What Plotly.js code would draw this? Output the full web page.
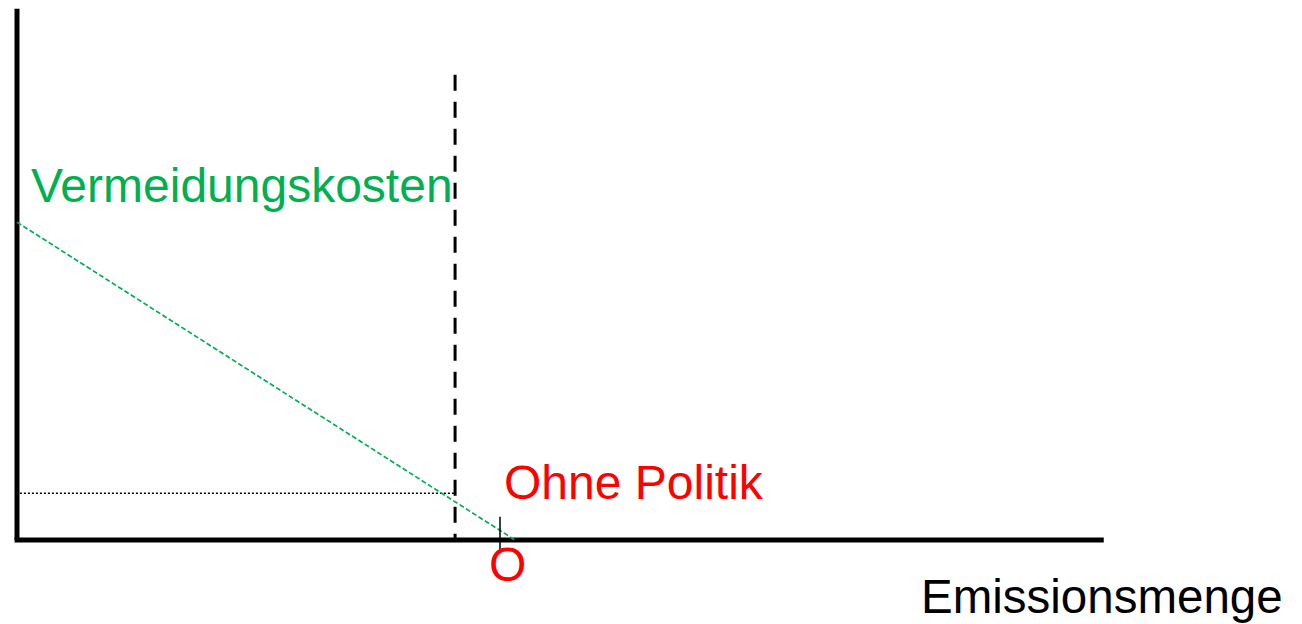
<!DOCTYPE html>
<html>
<head>
<meta charset="utf-8">
<script src="https://cdn.plot.ly/plotly-3.0.1.min.js"></script>
<style>html,body{margin:0;padding:0;background:#fff;}#chart{width:1302px;height:624px;}</style>
</head>
<body>
<div id="chart"></div>
<script>
// ---- data (abstract units) ----
const xAxisMax = 225;          // end of emission axis
const yAxisMax = 110;          // top of cost axis
const abatementX = [0, 103.1]; // Vermeidungskosten line
const abatementY = [65.8, 0];
const policyX = 90.7;          // dashed policy line
const policyTop = 96.3;
const priceLevel = 9.7;        // dotted horizontal level
const noPolicyX = 100;         // "O" point (ohne Politik)
const labels = {
  cost: "Vermeidungskosten",
  noPolicy: "Ohne Politik",
  origin: "O",
  xTitle: "Emissionsmenge"
};

const pxPerUnit = 4.83;
const x0 = -17 / pxPerUnit, x1 = x0 + 1302 / pxPerUnit;
const y1 = 540 / pxPerUnit, y0 = y1 - 624 / pxPerUnit;

const font = "Liberation Sans, Arial, sans-serif";
const fs = 48;
const traces = [
  {x: [0, 0], y: [0, yAxisMax], mode: "lines", line: {color: "#000", width: 5}},
  {x: [-0.5, xAxisMax], y: [0, 0], mode: "lines", line: {color: "#000", width: 5}},
  {x: [0.6, policyX], y: [priceLevel, priceLevel], mode: "lines", line: {color: "#000", width: 1.5, dash: "2px,2px"}},
  {x: abatementX, y: abatementY, mode: "lines", line: {color: "#00B050", width: 1.7, dash: "5px,2.5px"}},
  {x: [policyX, policyX], y: [policyTop, 0], mode: "lines", line: {color: "#000", width: 3, dash: "16px,11px"}},
  {x: [noPolicyX, noPolicyX], y: [4.8, -2.5], mode: "lines", line: {color: "#000", width: 1.5}}
];
traces.forEach(t => { t.showlegend = false; t.hoverinfo = "skip"; t.cliponaxis = false; });

const layout = {
  width: 1302, height: 624,
  margin: {l: 0, r: 0, t: 0, b: 0},
  paper_bgcolor: "#fff", plot_bgcolor: "#fff",
  xaxis: {range: [x0, x1], visible: false, fixedrange: true},
  yaxis: {range: [y0, y1], visible: false, fixedrange: true},
  showlegend: false,
  annotations: [
    {x: 2.5, y: 73.3, text: labels.cost, xanchor: "left", yanchor: "middle", showarrow: false,
     font: {family: font, size: fs, color: "#00B050"}},
    {x: 100.4, y: 12.0, text: labels.noPolicy, xanchor: "left", yanchor: "middle", showarrow: false,
     font: {family: font, size: fs, color: "#FF0000"}},
    {x: 101.55, y: -5.0, text: labels.origin, xanchor: "center", yanchor: "middle", showarrow: false,
     font: {family: font, size: fs, color: "#FF0000"}},
    {x: 186.9, y: -11.8, text: labels.xTitle, xanchor: "left", yanchor: "middle", showarrow: false,
     borderpad: 0, font: {family: font, size: 47.5, color: "#000"}}
  ]
};
Plotly.newPlot("chart", traces, layout, {staticPlot: true, displayModeBar: false});
</script>
</body>
</html>
